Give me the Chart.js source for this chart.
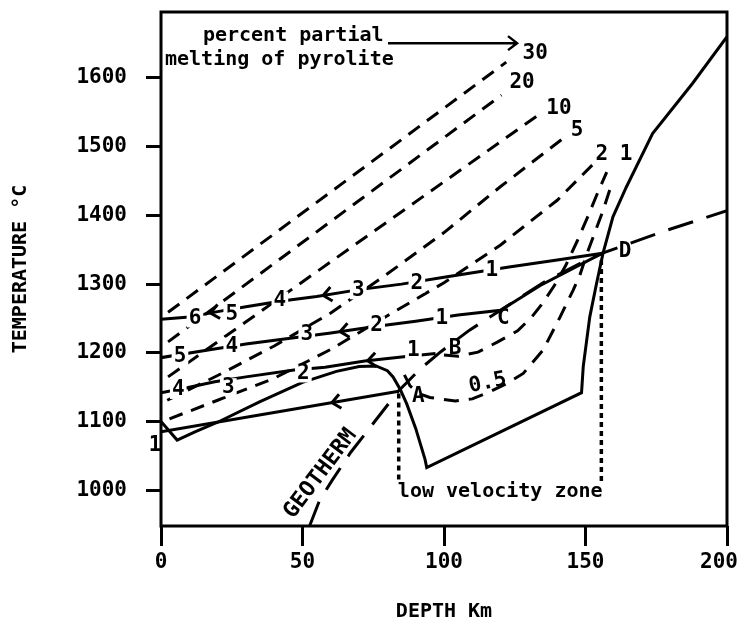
<!DOCTYPE html>
<html>
<head>
<meta charset="utf-8">
<script src="https://cdn.jsdelivr.net/npm/chart.js@4.4.1/dist/chart.umd.min.js"></script>
<style>
  html, body { margin: 0; padding: 0; background: #fff; }
</style>
</head>
<body>
<canvas id="myChart" width="740" height="624"></canvas>
<script>
// axis ticks
const depthTicks = [0, 50, 100, 150, 200];
const tempTicks = [1000, 1100, 1200, 1300, 1400, 1500, 1600];

// percent partial melting contours  [depth km, temperature C]
const melt30 = [[2.5,1259],[122,1623]];
const melt20 = [[2.5,1216],[120.3,1575]];
const melt10 = [[2.5,1165],[133.3,1546]];
const melt5  = [[2.2,1131],[20,1167],[40,1210],[60,1258],[80,1315],[100,1375],[120,1442],[142.7,1514]];
const melt2  = [[3,1104],[20,1131],[40,1163],[60,1205],[80,1254],[100,1302],[120,1357],[140,1422],[154,1480]];
const melt1  = [[100,1197],[105,1195],[112,1201],[119,1216],[126,1232],[131,1252],[135,1273],[139,1298],[143,1327],[147,1362],[151,1400],[154.5,1435],[157.5,1463]];
const melt05 = [[86,1168],[88,1152],[91,1141],[95,1135],[104,1130],[110,1133],[116,1143],[122,1155],[128,1170],[135,1204],[141,1252],[145.6,1291],[148,1313],[150.3,1342],[153.2,1374],[156.2,1407],[159.5,1449]];

// solidus and geotherm
const solidus = [[0,1100],[5.7,1073],[12,1085],[20,1099],[35,1129],[50,1157],[62,1173],[70,1180],[76,1181],[80,1174],[82,1165],[84.5,1147],[86.8,1126],[90,1090],[93.3,1045],[93.9,1033],
                 [148.6,1142],[149.2,1180],[151.5,1252],[153.9,1301],[156.2,1345],[159.7,1398],[164.4,1441],[173.7,1519],[187.8,1592],[200,1660]];
const geotherm = [[52.5,948],[56,985],[60.4,1014],[67,1055],[74,1092],[84,1145],[92,1178],[99,1202],[109,1233],[120,1262],[135,1302],[148,1330],[156,1345],[177,1376],[200,1407]];

// upwelling paths
const path1 = [[0,1249],[10,1252],[20,1260],[30,1267],[42,1275],[55,1282],[70,1292],[85,1300],[100,1310],[123,1325],[140,1335],[156,1345]];
const path2 = [[0,1193],[15,1203],[30,1213],[45,1221],[60,1229],[75,1238],[90,1246],[105,1255],[120,1262],[134,1298],[156,1345]];
const path3 = [[0,1142],[10,1150],[19,1158],[30,1165],[47,1175],[58,1179],[72,1188],[85,1194],[97,1199]];
const path4 = [[0,1085],[84,1144]];

// low velocity zone limits
const lvzLeft = [[84,1141],[84,1012]];
const lvzRight = [[155.6,1335],[155.6,1012]];

// labels
const meltLabels = [['30',132.2,1636],['20',127.6,1594],['10',140.6,1556],['5',147,1523],['2',155.8,1488],['1',164.3,1488]];
const pathLabels = [
  ['6',12,1250],['5',25,1255],['4',42,1276],['3',69.7,1291],['2',90.4,1301],['1',116.9,1320],
  ['5',6.7,1194],['4',25,1209],['3',51.5,1226],['2',76.2,1240],['1',99.2,1250],
  ['4',6.1,1146],['3',23.8,1150],['2',50.3,1170],['1',89.2,1204],
  ['1',-2.1,1065]
];
const pointLabels = [['A',90.9,1136],['B',103.9,1206],['C',121,1250],['D',164,1347]];
const arrowsAt = [[path1,57.3],[path1,17.5],[path2,63.3],[path3,73],[path4,60.4]];

function pts(arr){ return arr.map(p => ({x:p[0], y:p[1]})); }

function line(data, dash, width){
  return {
    data: pts(data), showLine: true, pointRadius: 0,
    borderColor: '#000', borderWidth: width || 3,
    borderDash: dash || [], tension: 0, fill: false
  };
}

function yOnPath(path, x){
  for (let i = 0; i < path.length - 1; i++){
    let a = path[i], b = path[i+1];
    if (x >= a[0] && x <= b[0]){
      return a[1] + (b[1]-a[1]) * (x-a[0]) / (b[0]-a[0]);
    }
  }
  return path[path.length-1][1];
}

function noPad(s){
  s.paddingLeft = 0; s.paddingRight = 0; s.paddingTop = 0; s.paddingBottom = 0;
}

const FONT = "'DejaVu Sans Mono', monospace";

const overlay = {
  id: 'overlay',
  afterDatasetsDraw(chart){
    const ctx = chart.ctx, sx = chart.scales.x, sy = chart.scales.y;
    const X = v => sx.getPixelForValue(v), Y = v => sy.getPixelForValue(v);
    ctx.save();
    ctx.fillStyle = '#000';
    ctx.strokeStyle = '#000';
    ctx.textAlign = 'center';
    ctx.textBaseline = 'middle';

    // numbers on the paths, sitting in gaps of the lines
    ctx.font = 'bold 21px ' + FONT;
    pathLabels.forEach(l => {
      let px = X(l[1]), py = Y(l[2]);
      let w = ctx.measureText(l[0]).width;
      ctx.fillStyle = '#fff';
      ctx.fillRect(px - w/2 - 2, py - 9, w + 4, 18);
      ctx.fillStyle = '#000';
      ctx.fillText(l[0], px, py);
    });

    meltLabels.forEach(l => ctx.fillText(l[0], X(l[1]), Y(l[2])));
    pointLabels.forEach(l => ctx.fillText(l[0], X(l[1]), Y(l[2])));

    // depth tick labels (last one kept inside the canvas)
    ctx.textBaseline = 'top';
    depthTicks.forEach(v => {
      let w = ctx.measureText(String(v)).width;
      let px = Math.min(X(v), chart.width - w/2 - 2);
      ctx.fillText(String(v), px, sx.top + 26);
    });
    ctx.textBaseline = 'middle';

    // 0.5 label
    ctx.save();
    ctx.translate(X(115.4), Y(1156));
    ctx.rotate(-12 * Math.PI / 180);
    ctx.fillText('0.5', 0, 0);
    ctx.restore();

    // geotherm label
    ctx.save();
    ctx.font = 'bold 22px ' + FONT;
    ctx.translate(X(56.4), Y(1024));
    ctx.rotate(-53 * Math.PI / 180);
    ctx.fillText('GEOTHERM', 0, 0);
    ctx.restore();

    // text notes
    ctx.font = 'bold 20px ' + FONT;
    ctx.textAlign = 'left';
    ctx.fillText('percent partial', X(14.8), Y(1661));
    ctx.fillText('melting of pyrolite', X(1.4), Y(1627));
    ctx.fillText('low velocity zone', X(83.7), Y(998));

    // arrow from the note
    ctx.lineWidth = 2.5;
    let ax1 = X(80.2), ax2 = X(125.8), ay = Y(1650.7);
    ctx.beginPath();
    ctx.moveTo(ax1, ay); ctx.lineTo(ax2, ay);
    ctx.moveTo(ax2 - 9, ay - 7); ctx.lineTo(ax2, ay); ctx.lineTo(ax2 - 9, ay + 7);
    ctx.stroke();

    // arrowheads on upwelling paths (pointing to shallower depth)
    ctx.lineWidth = 3;
    arrowsAt.forEach(a => {
      let path = a[0], x = a[1];
      let px = X(x), py = Y(yOnPath(path, x));
      let qx = X(x + 5), qy = Y(yOnPath(path, x + 5));
      let ang = Math.atan2(qy - py, qx - px);
      ctx.beginPath();
      ctx.moveTo(px + 11*Math.cos(ang + 0.7), py + 11*Math.sin(ang + 0.7));
      ctx.lineTo(px, py);
      ctx.lineTo(px + 11*Math.cos(ang - 0.7), py + 11*Math.sin(ang - 0.7));
      ctx.stroke();
    });

    // frame
    const ca = chart.chartArea;
    ctx.lineWidth = 3;
    ctx.strokeRect(ca.left, ca.top, ca.right - ca.left, ca.bottom - ca.top);
    ctx.restore();
  }
};

const ctx = document.getElementById('myChart').getContext('2d');
const myChart = new Chart(ctx, {
  type: 'scatter',
  data: {
    datasets: [
      line(melt30, [14, 9]),
      line(melt20, [14, 9]),
      line(melt10, [14, 9]),
      line(melt5, [14, 9]),
      line(melt2, [14, 9]),
      line(melt1, [15, 10]),
      line(melt05, [15, 10]),
      line(geotherm, [26, 14]),
      line(lvzLeft, [5, 4], 3.5),
      line(lvzRight, [5, 4], 3.5),
      line(solidus),
      line(path1),
      line(path2),
      line(path3),
      line(path4)
    ]
  },
  options: {
    responsive: false,
    animation: false,
    layout: { padding: { left: 0, top: 12, right: 13, bottom: 0 }, autoPadding: false },
    plugins: { legend: { display: false }, tooltip: { enabled: false } },
    scales: {
      x: {
        type: 'linear', min: 0, max: 200,
        afterFit: s => { s.height = 98; noPad(s); },
        afterBuildTicks: s => { s.ticks = depthTicks.map(v => ({ value: v })); },
        border: { display: false },
        grid: { drawOnChartArea: false, drawTicks: true, tickLength: 20, tickWidth: 3, tickColor: '#000' },
        ticks: { display: false },
        title: { display: true, text: 'DEPTH Km', color: '#000', padding: { top: 0, bottom: 0 }, font: { family: FONT, size: 20, weight: 'bold' } }
      },
      y: {
        type: 'linear', min: 948, max: 1696,
        afterFit: s => { s.width = 161; noPad(s); },
        afterBuildTicks: s => { s.ticks = tempTicks.map(v => ({ value: v })); },
        border: { display: false },
        grid: { drawOnChartArea: false, drawTicks: true, tickLength: 15, tickWidth: 3, tickColor: '#000' },
        ticks: { color: '#000', padding: 19, font: { family: FONT, size: 21, weight: 'bold' }, callback: v => String(v) },
        title: { display: true, text: 'TEMPERATURE °C', color: '#000', padding: { top: 9, bottom: 0 }, font: { family: FONT, size: 20, weight: 'bold' } }
      }
    }
  },
  plugins: [overlay]
});
</script>
</body>
</html>
